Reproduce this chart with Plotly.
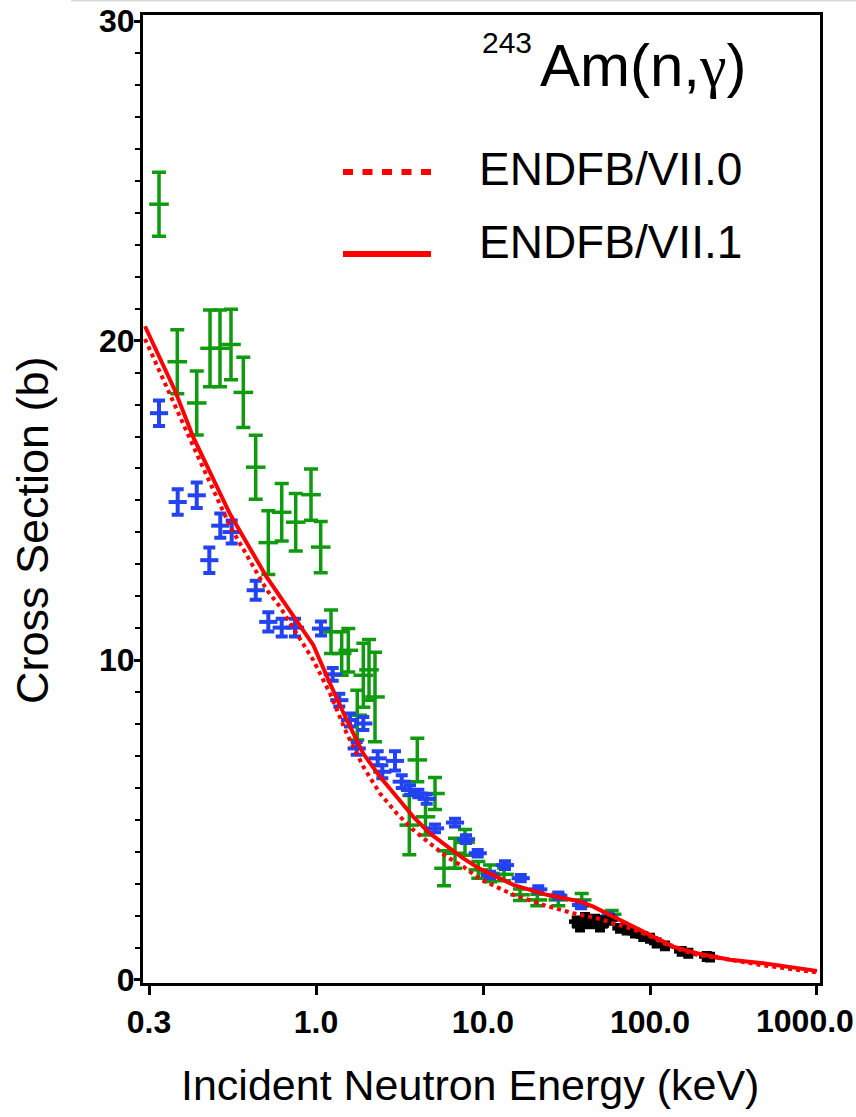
import plotly.graph_objects as go

# ---- evaluated cross sections (incident energy in keV, sigma in barns) ----
endf70_energy = [0.0946, 0.143, 0.193, 0.305, 0.507, 0.609, 0.964, 1.213, 1.527, 1.919,
                 2.416, 3.042, 3.826, 4.81, 6.06, 7.62, 9.59, 15.2, 24.1, 34.7,
                 47.9, 60.3, 75.9, 95.5, 120.0, 151.0, 190.5, 301.0, 477.0, 1000.0]
endf70_xs = [20.05, 17.95, 16.46, 14.2, 12.2, 11.67, 10.0, 8.96, 7.71, 6.67,
             5.83, 5.21, 4.69, 4.27, 3.85, 3.54, 3.15, 2.66, 2.31, 2.08,
             1.93, 1.77, 1.61, 1.41, 1.15, 0.94, 0.78, 0.63, 0.45, 0.23]

endf71_energy = [0.0946, 0.143, 0.184, 0.305, 0.507, 0.766, 0.964, 1.213, 1.527, 1.919,
                 2.416, 3.042, 3.826, 4.81, 6.06, 7.62, 9.59, 15.2, 24.1, 38.1,
                 45.7, 60.3, 95.5, 138.0, 190.5, 301.0, 477.0, 1000.0]
endf71_xs = [20.45, 18.44, 16.98, 14.58, 12.60, 11.20, 10.47, 9.27, 8.13, 7.08,
             6.35, 5.73, 5.10, 4.58, 4.17, 3.80, 3.47, 2.97, 2.66, 2.45,
             2.29, 1.98, 1.46, 1.04, 0.83, 0.63, 0.52, 0.28]

# ---- measured data sets ----
green_energy = [0.1148, 0.1477, 0.1931, 0.2319, 0.2661, 0.3097, 0.3670, 0.4355, 0.5181, 0.6233,
                0.7558, 0.9334, 1.067, 1.230, 1.425, 1.561, 1.767, 1.920, 2.077, 2.256,
                3.620, 4.043, 4.526, 5.160, 5.841, 6.798, 7.803, 9.373, 11.02, 13.36,
                16.66, 21.14, 28.24, 39.00, 58.98]
green_xs = [24.27, 19.34, 18.05, 19.76, 19.76, 19.88, 18.38, 16.04, 13.68, 14.63,
            14.32, 15.18, 13.54, 10.89, 10.21, 10.31, 8.28, 9.53, 9.70, 8.85,
            4.84, 6.88, 5.10, 5.83, 3.49, 3.96, 4.30, 3.44, 3.33, 3.30,
            2.66, 2.50, 2.50, 2.50, 2.05]
green_err = [1.0, 1.0, 1.0, 1.2, 1.2, 1.1, 1.1, 1.0, 1.0, 0.9,
             0.9, 0.8, 0.8, 0.68, 0.68, 0.68, 0.78, 1.0, 0.95, 1.4,
             0.93, 0.68, 0.57, 0.5, 0.55, 0.47, 0.4, 0.26, 0.26, 0.2,
             0.18, 0.18, 0.18, 0.2, 0.12]

blue_energy = [0.1148, 0.1485, 0.1931, 0.2297, 0.2672, 0.3127, 0.4355, 0.5181, 0.6233, 0.7486,
               1.071, 1.259, 1.379, 1.598, 1.920, 1.753, 2.341, 2.495, 2.972, 3.261,
               3.655, 4.100, 4.601, 5.160, 6.798, 7.911, 9.296, 11.02, 13.54, 16.82,
               21.43, 28.24, 38.63, 56.27]
blue_xs = [17.73, 14.95, 15.16, 13.13, 14.21, 14.01, 12.19, 11.20, 11.02, 11.02,
           10.99, 9.56, 8.75, 8.13, 8.02, 7.24, 6.93, 6.51, 6.85, 6.20,
           5.94, 5.83, 5.66, 4.74, 4.92, 4.40, 3.96, 3.28, 3.59, 3.18,
           2.83, 2.63, 2.34, 1.98]
blue_err = [0.4, 0.4, 0.4, 0.4, 0.38, 0.36, 0.3, 0.3, 0.28, 0.28,
            0.22, 0.2, 0.2, 0.2, 0.2, 0.2, 0.22, 0.2, 0.3, 0.2,
            0.15, 0.12, 0.15, 0.12, 0.12, 0.12, 0.1, 0.1, 0.12, 0.1,
            0.1, 0.1, 0.1, 0.1]

black_energy = [36.40, 38.09, 40.81, 43.73, 46.86, 50.19, 53.04, 57.61, 66.14, 72.54,
                81.33, 91.19, 100.0, 109.7, 122.9, 154.8, 169.6, 218.6, 228.8]
black_xs = [1.82, 1.67, 1.93, 1.77, 1.88, 1.67, 1.82, 1.88, 1.61, 1.56,
            1.46, 1.35, 1.30, 1.15, 1.06, 0.89, 0.83, 0.73, 0.71]
black_err = [0.12, 0.12, 0.12, 0.12, 0.12, 0.12, 0.12, 0.12, 0.1, 0.1,
             0.1, 0.1, 0.1, 0.1, 0.1, 0.1, 0.1, 0.1, 0.1]

# ---- axis ticks ----
x_tickvals = [0.1, 1, 10, 100, 1000]
x_ticktext = ["0.3", "1.0", "10.0", "100.0", "1000.0"]
y_tickvals = [0, 10, 20, 30]

GREEN = "#0f9a0f"
BLUE = "#2342f0"
RED = "#ff0000"
FONT = "Liberation Sans, Arial, Helvetica, sans-serif"
TICKFONT = dict(family=FONT, size=32, color="black", weight="bold")


def exp_trace(x, y, err, color, name, cap=6, size=13, thick=3.5):
    return go.Scatter(
        x=x, y=y, mode="markers", name=name, showlegend=False,
        marker=dict(symbol="line-ew", size=size, color=color,
                    line=dict(width=thick, color=color)),
        error_y=dict(type="data", array=err, visible=True, color=color,
                     thickness=thick, width=cap),
    )


fig = go.Figure()
fig.add_trace(exp_trace(green_energy, green_xs, green_err, GREEN, "green", cap=7, size=14))
fig.add_trace(exp_trace(blue_energy, blue_xs, blue_err, BLUE, "blue", cap=6, size=13, thick=4))
fig.add_trace(exp_trace(black_energy, black_xs, black_err, "black", "black",
                        cap=5, size=11, thick=4.5))
fig.add_trace(go.Scatter(x=endf70_energy, y=endf70_xs, mode="lines", name="ENDFB/VII.0",
                         showlegend=False,
                         line=dict(color=RED, width=4, dash="4px,4px")))
fig.add_trace(go.Scatter(x=endf71_energy, y=endf71_xs, mode="lines", name="ENDFB/VII.1",
                         showlegend=False,
                         line=dict(color=RED, width=4)))

L, R, T, B = 143, 36, 15, 134
W, H = 856, 1117
PW, PH = W - L - R, H - T - B


def px(xp):
    return (xp - L) / PW


def py(yp):
    return (H - B - yp) / PH


fig.update_layout(
    width=W, height=H,
    margin=dict(l=L, r=R, t=T, b=B, pad=0, autoexpand=False),
    paper_bgcolor="white", plot_bgcolor="white",
    font=dict(family=FONT, color="black"),
    showlegend=False,
)

# the last tick label sits against the right page edge, so it is placed
# separately (right-aligned) instead of centred on its tick
axis_ticktext = x_ticktext[:-1] + [""]

fig.update_xaxes(
    type="log", range=[-1.036, 3.018], automargin=False,
    tickmode="array", tickvals=x_tickvals, ticktext=axis_ticktext,
    ticks="outside", ticklen=9, tickwidth=3, tickcolor="black",
    tickfont=TICKFONT,
    showline=True, linecolor="black", linewidth=3, mirror=True,
    showgrid=False, zeroline=False,
)
fig.update_yaxes(
    range=[-0.1, 30.19], automargin=False,
    tickmode="array", tickvals=y_tickvals,
    ticks="outside", ticklen=6, tickwidth=3, tickcolor="black",
    tickfont=TICKFONT,
    ticklabelstandoff=-7,
    minor=dict(tickmode="linear", tick0=0, dtick=1, ticks="outside",
               ticklen=5, tickwidth=2, tickcolor="black", showgrid=False),
    showline=True, linecolor="black", linewidth=3, mirror=True,
    showgrid=False, zeroline=False,
)

annotations = [
    dict(text="Cross Section (b)", x=px(33), y=py(530), textangle=-90,
         font=dict(size=45)),
    dict(text="Incident Neutron Energy (keV)", x=px(470), y=py(1085),
         font=dict(size=43)),
    dict(text="243", x=px(481), y=py(42), xanchor="left", font=dict(size=30)),
    dict(text='Am(n,<span style="font-family:Liberation Serif">γ</span>)',
         x=px(539), y=py(66), xanchor="left", font=dict(size=60)),
    dict(text="ENDFB/VII.0", x=px(478), y=py(169), xanchor="left", font=dict(size=46)),
    dict(text="ENDFB/VII.1", x=px(478), y=py(242), xanchor="left", font=dict(size=46)),
    dict(text=x_ticktext[-1], x=px(855), y=py(1021), xanchor="right",
         font=dict(TICKFONT)),
]
for a in annotations:
    a.update(xref="paper", yref="paper", showarrow=False, borderpad=0)
    a.setdefault("xanchor", "center")
    a.setdefault("yanchor", "middle")
    a["font"].setdefault("family", FONT)
    a["font"].setdefault("color", "black")
fig.update_layout(annotations=annotations)

shapes = [
    # legend samples
    dict(type="line", xref="paper", yref="paper", x0=px(343), x1=px(431),
         y0=py(172), y1=py(172), line=dict(color=RED, width=6, dash="10px,9.5px")),
    dict(type="line", xref="paper", yref="paper", x0=px(343), x1=px(431),
         y0=py(254), y1=py(254), line=dict(color=RED, width=6)),
    # thin rule along the top edge
    dict(type="line", xref="paper", yref="paper", x0=px(71), x1=px(856),
         y0=py(0.7), y1=py(0.7), line=dict(color="#dcdcdc", width=1.5)),
]
fig.update_layout(shapes=shapes)

fig.write_html("out.html")
